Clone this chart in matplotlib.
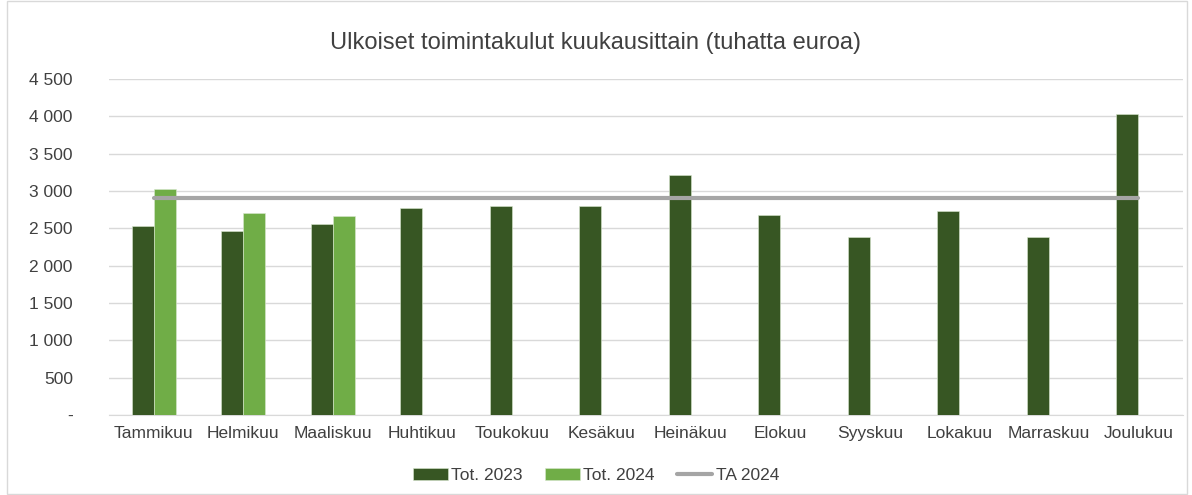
import matplotlib.pyplot as plt
import numpy as np
from matplotlib.ticker import FuncFormatter
from matplotlib.patches import Rectangle

# kuukaudet ja arvot (tuhatta euroa)
months = ['Tammikuu', 'Helmikuu', 'Maaliskuu', 'Huhtikuu', 'Toukokuu', 'Kesäkuu',
          'Heinäkuu', 'Elokuu', 'Syyskuu', 'Lokakuu', 'Marraskuu', 'Joulukuu']
tot_2023 = [2530, 2470, 2560, 2770, 2800, 2800, 3210, 2680, 2385, 2735, 2385, 4030]
tot_2024 = [3030, 2705, 2665]
ta_2024 = [2910] * 12

plt.rcParams['font.family'] = ['Liberation Sans', 'DejaVu Sans']

fig = plt.figure(figsize=(11.92, 4.95), dpi=100)
ax = fig.add_axes([0.0914, 0.1616, 0.9011, 0.6788])

x = np.arange(len(months))
w = 0.246
b1 = ax.bar(x - w / 2, tot_2023, width=w, color='#375623', edgecolor='#d9e8cf',
            linewidth=0.4, label='Tot. 2023', zorder=3)
b2 = ax.bar(x[:len(tot_2024)] + w / 2, tot_2024, width=w, color='#70ad47',
            edgecolor='#d9e8cf', linewidth=0.4, label='Tot. 2024', zorder=3)
l1, = ax.plot(x, ta_2024, color='#a5a5a5', linewidth=3, solid_capstyle='round',
              label='TA 2024', zorder=4)

ax.set_xlim(-0.5, len(months) - 0.5)
ax.set_ylim(0, 4500)
ax.set_yticks(np.arange(0, 4501, 500))
ax.yaxis.set_major_formatter(FuncFormatter(
    lambda v, p: '-' if v == 0 else f'{int(v):,}'.replace(',', ' ')))
ax.set_xticks(x)
ax.set_xticklabels(months)

ax.grid(axis='y', color='#d9d9d9', linewidth=1, zorder=0)
for s in ['top', 'right', 'left']:
    ax.spines[s].set_visible(False)
ax.spines['bottom'].set_color('#d9d9d9')
ax.tick_params(axis='both', length=0, labelsize=12.5, colors='#404040')
ax.tick_params(axis='y', pad=26)
ax.tick_params(axis='x', pad=8)

fig.text(0.5, 0.913, 'Ulkoiset toimintakulut kuukausittain (tuhatta euroa)',
         ha='center', va='center', fontsize=17, color='#404040')

leg = fig.legend([b1, b2, l1], ['Tot. 2023', 'Tot. 2024', 'TA 2024'], loc='center',
                 bbox_to_anchor=(0.5, 0.04), ncol=3, frameon=False, fontsize=12.5,
                 handlelength=2.0, handleheight=0.7, columnspacing=1.3, handletextpad=0.2)
for t in leg.get_texts():
    t.set_color('#404040')

# ohut reunus kaavion ympärillä
fig.patches.append(Rectangle((0.006, 0.002), 0.99, 0.996, transform=fig.transFigure,
                             fill=False, edgecolor='#d9d9d9', linewidth=1))

fig.savefig('out.png', dpi=100)
